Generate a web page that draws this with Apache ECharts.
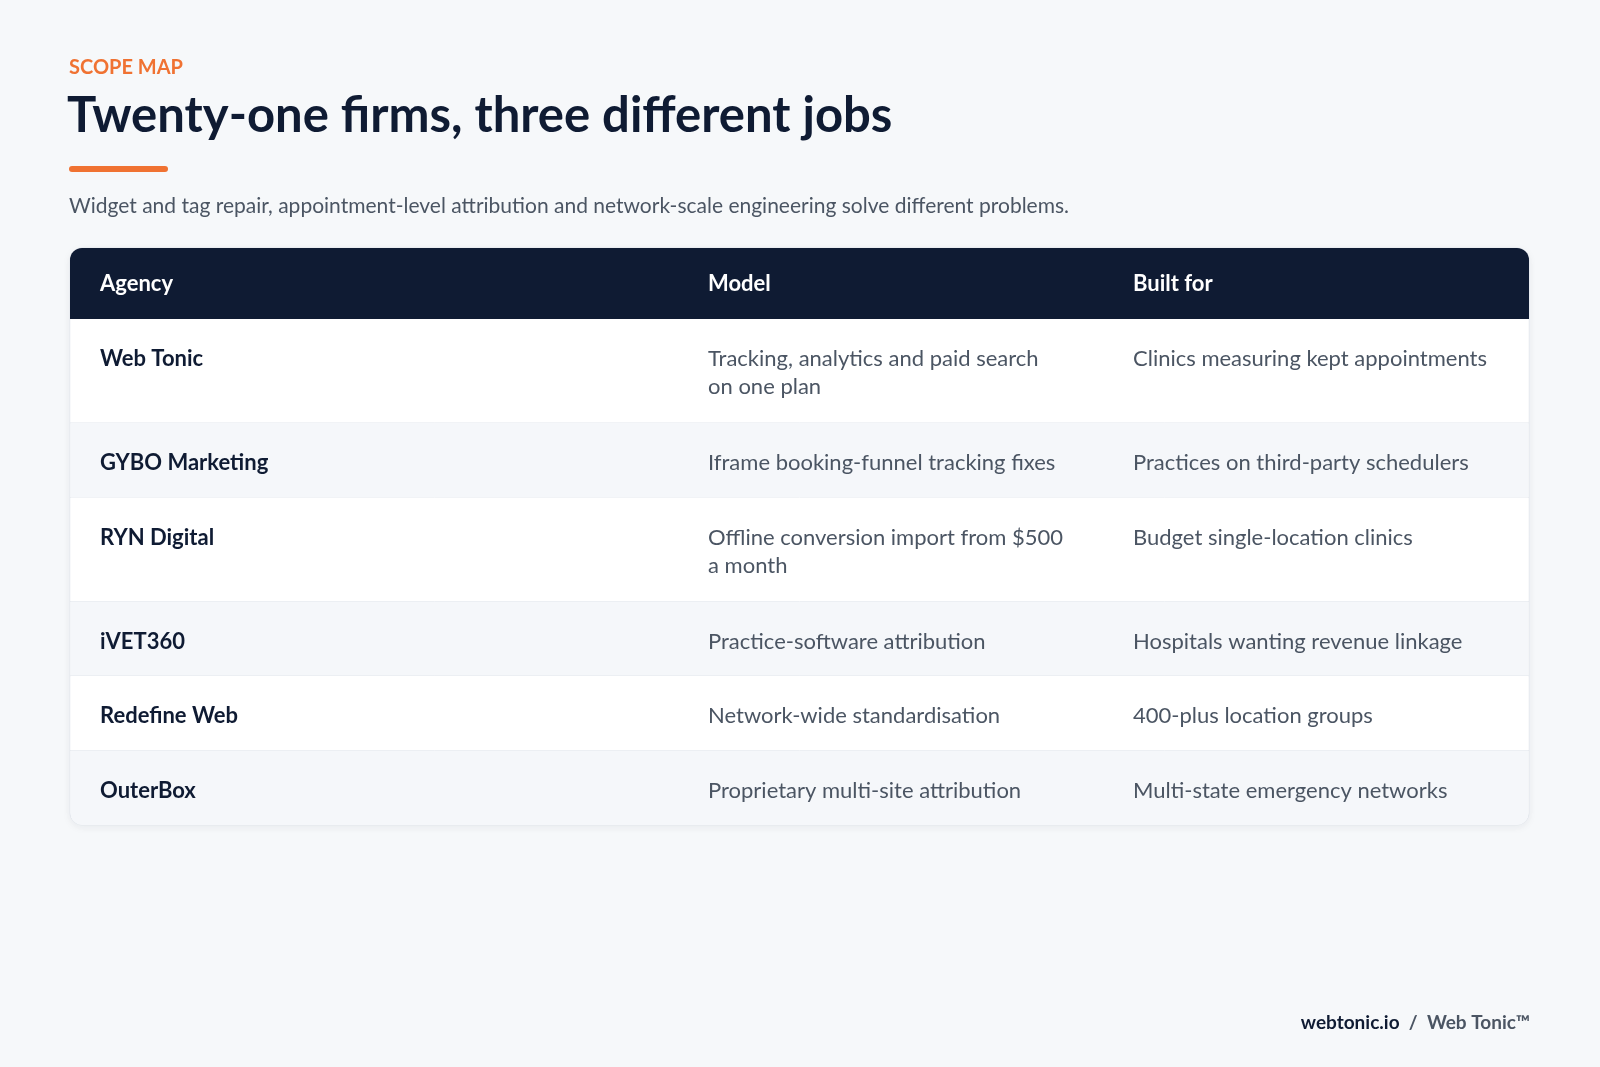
<!DOCTYPE html>
<html><head><meta charset="utf-8">
<script src="https://cdn.jsdelivr.net/npm/echarts@6/dist/echarts.min.js"></script>
<style>html,body{margin:0;padding:0;background:#F6F8FA}#c{width:1600px;height:1067px}</style>
</head><body><div id="c"></div>
<script>
const headers = ["Agency", "Model", "Built for"];
const agencies = ["Web Tonic", "GYBO Marketing", "RYN Digital", "iVET360", "Redefine Web", "OuterBox"];
const models = ["Tracking, analytics and paid search\non one plan", "Iframe booking-funnel tracking fixes", "Offline conversion import from $500\na month", "Practice-software attribution", "Network-wide standardisation", "Proprietary multi-site attribution"];
const builtFor = ["Clinics measuring kept appointments", "Practices on third-party schedulers", "Budget single-location clinics", "Hospitals wanting revenue linkage", "400-plus location groups", "Multi-state emergency networks"];

const F = 'Lato, "Noto Sans", sans-serif';
const L = 70, R = 1529, W = R - L, TOP = 248, HEAD = 71;
const colX = [100, 708, 1133];
const g = [];
g.push({type:'text', left:69, top:58, style:{text:'SCOPE MAP', font:'bold 20px '+F, fill:'#F07232', letterSpacing:2.5}});
g.push({type:'text', left:67, top:92, style:{text:'Twenty-one firms, three different jobs', font:'bold 49px '+F, fill:'#0F1B33', letterSpacing:-1}});
g.push({type:'rect', shape:{x:69, y:166, width:99, height:6, r:3}, style:{fill:'#F07232'}});
g.push({type:'text', left:69, top:196, style:{text:'Widget and tag repair, appointment-level attribution and network-scale engineering solve different problems.', font:'21px '+F, fill:'#4B5563'}});

// compute row heights
const heights = models.map(m => m.includes('\n') ? 104 : 74.5);
const total = HEAD + heights.reduce((a,b)=>a+b,0);
g.push({type:'rect', shape:{x:L, y:TOP, width:W, height:total, r:12}, style:{fill:'#fff', stroke:'#E3E7ED', lineWidth:1, shadowBlur:8, shadowColor:'rgba(15,27,51,0.06)', shadowOffsetY:2}});
g.push({type:'rect', shape:{x:L, y:TOP, width:W, height:HEAD, r:[12,12,0,0]}, style:{fill:'#0F1B33'}});
headers.forEach((h,i)=>g.push({type:'text', x:colX[i], y:TOP+HEAD/2, style:{text:h, font:'bold 22px '+F, fill:'#fff', verticalAlign:'middle'}}));
let y = TOP + HEAD;
agencies.forEach((a,i)=>{
  const h = heights[i];
  const last = i === agencies.length-1;
  g.push({type:'rect', shape:{x:L+0.5, y:y, width:W-1, height:h, r: last?[0,0,12,12]:0}, style:{fill: i%2 ? '#F5F7FA' : '#FFFFFF'}});
  if (!last) g.push({type:'line', shape:{x1:L, y1:y+h, x2:R, y2:y+h}, style:{stroke:'#E3E7ED', lineWidth:1}});
  const ty = y + 26;
  g.push({type:'text', x:colX[0], y:ty, style:{text:a, font:'bold 22px '+F, fill:'#0F1B33', lineHeight:28}});
  g.push({type:'text', x:colX[1], y:ty, style:{text:models[i], font:'22px '+F, fill:'#4B5563', lineHeight:28}});
  g.push({type:'text', x:colX[2], y:ty, style:{text:builtFor[i], font:'22px '+F, fill:'#4B5563', lineHeight:28}});
  y += h;
});
g.push({type:'text', right:70, top:1013, style:{rich:{a:{font:'bold 19px '+F, fill:'#0F1B33', letterSpacing:1}, b:{font:'bold 19px '+F, fill:'#4B5563', letterSpacing:1}}, text:'{a|webtonic.io}{b|  /  Web Tonic™}'}});
const chart = echarts.init(document.getElementById('c'));
chart.setOption({backgroundColor:'#F6F8FA', graphic:g});
</script></body></html>
